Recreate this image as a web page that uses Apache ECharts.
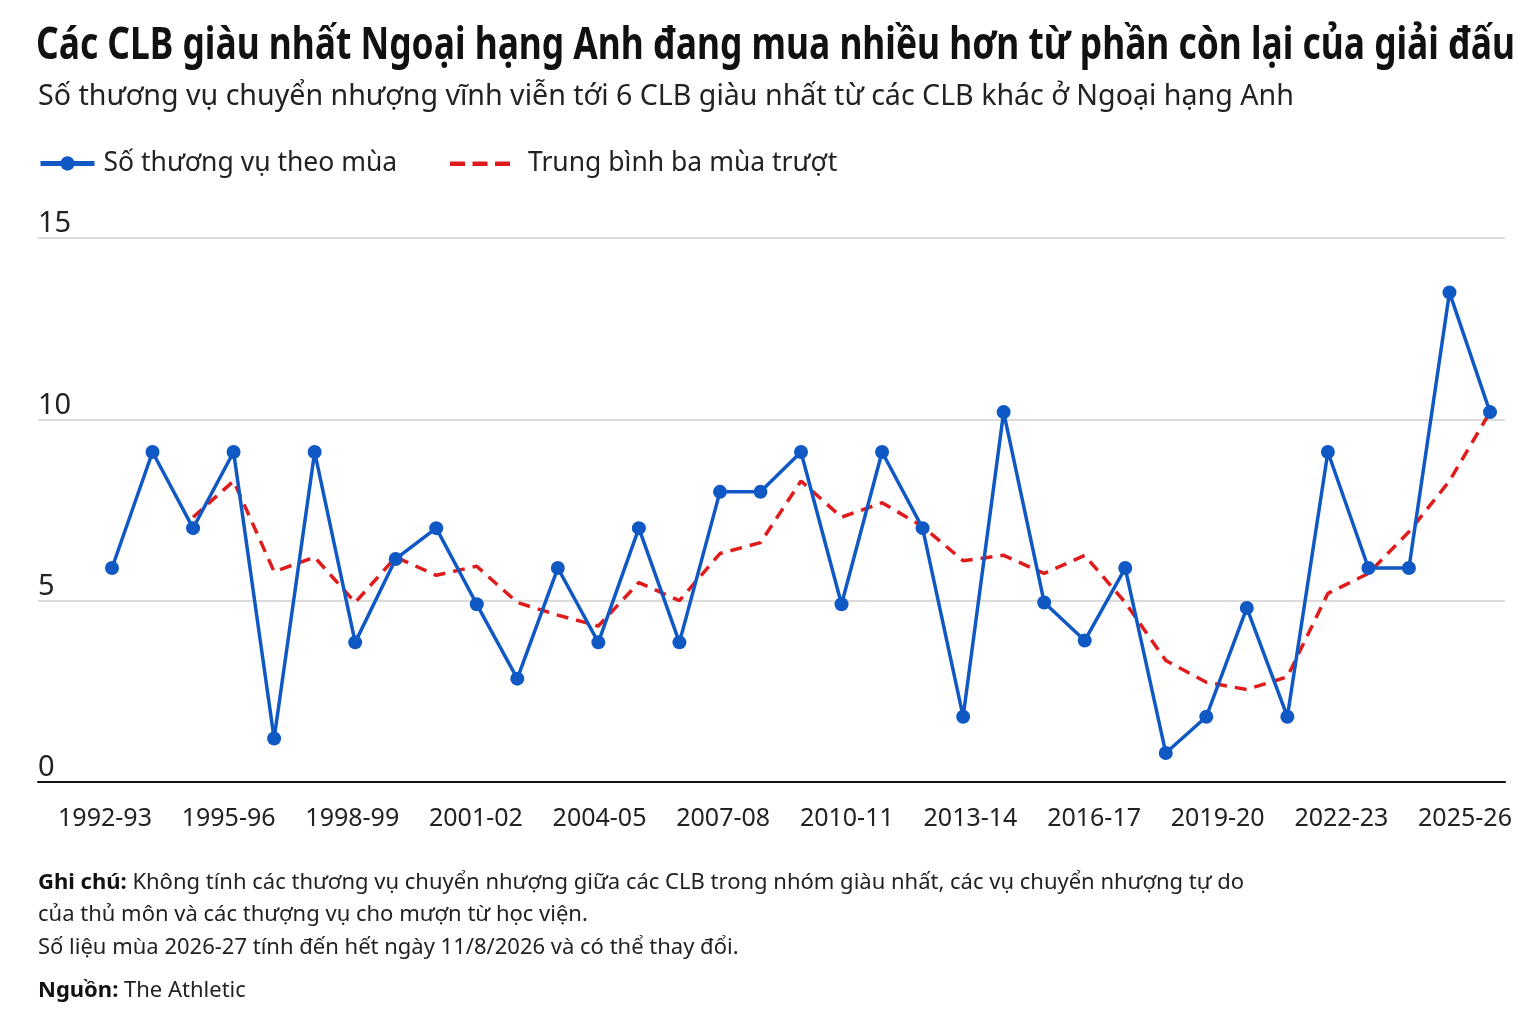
<!DOCTYPE html>
<html><head><meta charset="utf-8">
<script src="https://cdn.jsdelivr.net/npm/echarts@6/dist/echarts.min.js"></script>
<style>html,body{margin:0;padding:0;background:#fff}#c{width:1536px;height:1024px}</style>
</head><body><div id="c"></div>
<script>
const seasons = ['1992-93','1993-94','1994-95','1995-96','1996-97','1997-98','1998-99','1999-00','2000-01','2001-02',
  '2002-03','2003-04','2004-05','2005-06','2006-07','2007-08','2008-09','2009-10','2010-11','2011-12',
  '2012-13','2013-14','2014-15','2015-16','2016-17','2017-18','2018-19','2019-20','2020-21','2021-22',
  '2022-23','2023-24','2024-25','2025-26','2026-27'];
const tickLabels = ['1992-93','1995-96','1998-99','2001-02','2004-05','2007-08','2010-11','2013-14','2016-17','2019-20','2022-23','2025-26'];
const dealsPerSeason = [5.9, 9.1, 7.0, 9.1, 1.2, 9.1, 3.85, 6.15, 7.0, 4.9,
  2.85, 5.9, 3.85, 7.0, 3.85, 8.0, 8.0, 9.1, 4.9, 9.1,
  7.0, 1.8, 10.2, 4.95, 3.9, 5.9, 0.8, 1.8, 4.8, 1.8,
  9.1, 5.9, 5.9, 13.5, 10.2];
const rollingAvg = [null, null, 7.3, 8.3, 5.8, 6.2, 4.95, 6.2, 5.7, 5.95,
  4.95, 4.6, 4.3, 5.5, 5.0, 6.3, 6.6, 8.3, 7.3, 7.7,
  7.05, 6.1, 6.25, 5.75, 6.25, 4.95, 3.35, 2.75, 2.55, 2.9,
  5.2, 5.75, 6.9, 8.3, 10.2];
const yMin = 0, yMax = 15, yStep = 5;
const titleText = 'Các CLB giàu nhất Ngoại hạng Anh đang mua nhiều hơn từ phần còn lại của giải đấu';
const subtitleText = 'Số thương vụ chuyển nhượng vĩnh viễn tới 6 CLB giàu nhất từ các CLB khác ở Ngoại hạng Anh';
const seriesNames = ['Số thương vụ theo mùa', 'Trung bình ba mùa trượt'];
const noteLines = [
  ['Ghi chú: ', 'Không tính các thương vụ chuyển nhượng giữa các CLB trong nhóm giàu nhất, các vụ chuyển nhượng tự do'],
  ['', 'của thủ môn và các thượng vụ cho mượn từ học viện.'],
  ['', 'Số liệu mùa 2026-27 tính đến hết ngày 11/8/2026 và có thể thay đổi.'],
  ['Nguồn: ', 'The Athletic']
];

const FONT = '"Noto Sans", "Open Sans", sans-serif';
const BLUE = '#1059c4', RED = '#e01b1b';

const TITLE_SIZE = 44;
function measure(text, font) {
  const ctx = document.createElement('canvas').getContext('2d');
  ctx.font = font;
  return ctx.measureText(text).width;
}
const titleFont = 'bold ' + TITLE_SIZE + 'px ' + FONT;
const titleScale = Math.min(1, 1479 / measure(titleText, titleFont));

const chart = echarts.init(document.getElementById('c'), null, {renderer: 'canvas'});

const noteY = [882, 914, 947, 990];
const graphics = [
  {type: 'text', x: 36, y: 46, scaleX: titleScale, scaleY: 1,
    style: {text: titleText, font: titleFont, fill: '#111', textVerticalAlign: 'middle', verticalAlign: 'middle'}},
  {type: 'text', left: 38, top: 82, style: {text: subtitleText, font: '28.6px ' + FONT, fill: '#222'}}
];
noteLines.forEach((ln, i) => {
  graphics.push({type: 'text', left: 38, top: noteY[i] - 10, style: {
    text: (ln[0] ? '{b|' + ln[0] + '}' : '') + '{r|' + ln[1] + '}',
    rich: {b: {font: 'bold 22px ' + FONT, fill: '#111'}, r: {font: '22px ' + FONT, fill: '#222'}}
  }});
});

chart.setOption({
  backgroundColor: '#fff',
  animation: false,
  textStyle: {fontFamily: FONT},
  graphic: graphics,
  legend: [
    {left: 33, top: 145, itemWidth: 54, itemHeight: 18,
      lineStyle: {width: 5},
      textStyle: {fontSize: 26.5, color: '#222', fontFamily: FONT, padding: [0, 0, 0, 4]},
      data: [{name: seriesNames[0]}]},
    {left: 445, top: 145, itemWidth: 60, itemHeight: 18,
      textStyle: {fontSize: 26.5, color: '#222', fontFamily: FONT, padding: [0, 0, 0, 13]},
      data: [{name: seriesNames[1], icon: 'path://M0,0 M0,7h15v4.5h-15z M22.5,7h15v4.5h-15z M45,7h15v4.5h-15z M60,18', itemStyle: {color: RED}}]}
  ],
  grid: [
    {left: 38, right: 31, top: 238, bottom: 242},
    {left: 112, right: 46, top: 238, bottom: 242},
    {left: 105, right: 71, top: 238, bottom: 242}
  ],
  xAxis: [
    {gridIndex: 0, type: 'value', min: 0, max: 1, axisLine: {show: true, lineStyle: {color: '#111', width: 2}},
      axisTick: {show: false}, axisLabel: {show: false}, splitLine: {show: false}},
    {gridIndex: 1, type: 'category', data: seasons, boundaryGap: false,
      axisLine: {show: false}, axisTick: {show: false}, splitLine: {show: false}, axisLabel: {show: false}},
    {gridIndex: 2, type: 'category', data: tickLabels, boundaryGap: false,
      axisLine: {show: false}, axisTick: {show: false}, splitLine: {show: false},
      axisLabel: {interval: 0, fontSize: 25, color: '#222', margin: 24, fontFamily: FONT}}
  ],
  yAxis: [
    {gridIndex: 0, type: 'value', min: yMin, max: yMax, interval: yStep,
      axisLine: {show: false}, axisTick: {show: false},
      splitLine: {lineStyle: {color: '#cfcfcf', width: 1.5}},
      axisLabel: {inside: true, align: 'left', verticalAlign: 'bottom', margin: 0, padding: [0, 0, 1, 0], lineHeight: 26,
        fontSize: 29, color: '#222', fontFamily: FONT},
      z: 0},
    {gridIndex: 1, type: 'value', min: yMin, max: yMax, interval: yStep, show: false},
    {gridIndex: 2, type: 'value', min: yMin, max: yMax, interval: yStep, show: false}
  ],
  series: [
    {name: seriesNames[0], type: 'line', xAxisIndex: 1, yAxisIndex: 1, data: dealsPerSeason,
      symbol: 'circle', symbolSize: 14, itemStyle: {color: BLUE},
      lineStyle: {color: BLUE, width: 3.5}, z: 3},
    {name: seriesNames[1], type: 'line', xAxisIndex: 1, yAxisIndex: 1, data: rollingAvg,
      symbol: 'none', showSymbol: false, itemStyle: {color: RED},
      lineStyle: {color: RED, width: 3.5, type: [12, 8]}, z: 2}
  ]
});
</script></body></html>
